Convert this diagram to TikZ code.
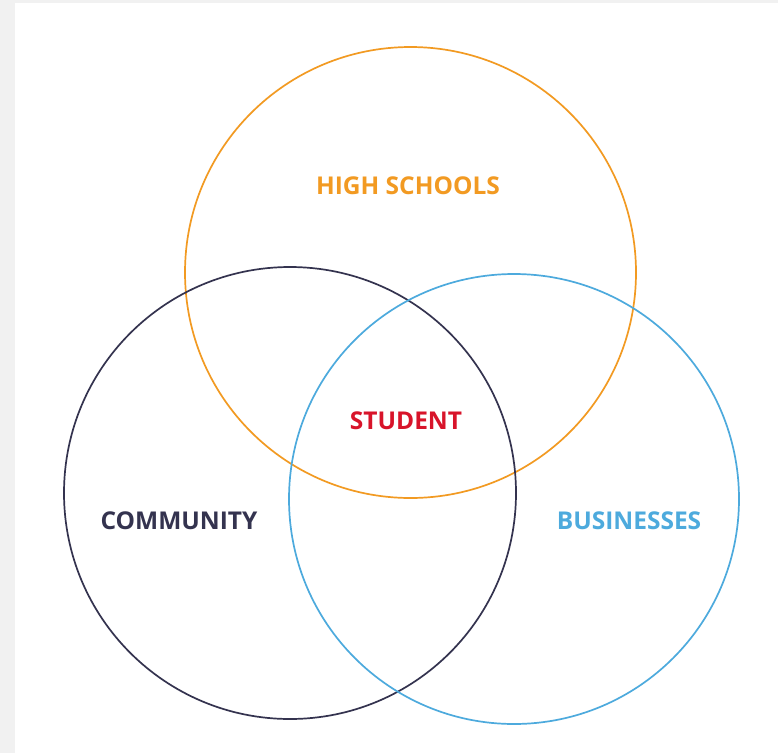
\documentclass[tikz,border=0pt]{standalone}
\usepackage{fontspec}
\setmainfont{Open Sans}
\begin{document}
\begin{tikzpicture}[x=1pt,y=-1pt,
  ring/.style={line width=1.7pt},
  lbl/.style={font=\bfseries\fontsize{24.5}{28}\selectfont, inner sep=0pt}]
\definecolor{hsorange}{HTML}{F29A22}
\definecolor{comnavy}{HTML}{34334F}
\definecolor{busblue}{HTML}{4DAADD}
\definecolor{stured}{HTML}{D8142A}
\definecolor{edgegray}{HTML}{F1F1F1}
\fill[edgegray] (0,0) rectangle (778,753);
\fill[white] (15,3) rectangle (778,753);
\useasboundingbox (0,0) rectangle (778,753);
\draw[ring, hsorange] (410.5,272.5) circle (225.5);
\draw[ring, comnavy] (290,493) circle (226);
\draw[ring, busblue] (514,499) circle (225);
\node[lbl, text=hsorange] (hs) at (408,186) {HIGH SCHOOLS};
\node[lbl, text=stured] (st) at (406,421) {STUDENT};
\node[lbl, text=comnavy] (co) at (179,521) {COMMUNITY};
\node[lbl, text=busblue] (bu) at (629,521) {BUSINESSES};
\end{tikzpicture}
\end{document}
